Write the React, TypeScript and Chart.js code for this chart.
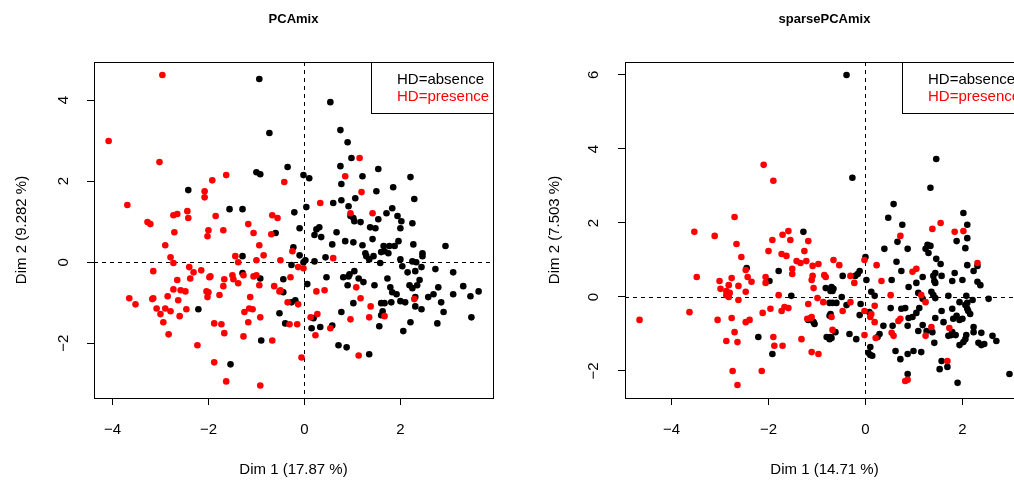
import React, { useEffect, useRef } from "react";
import { Chart, registerables } from "chart.js";

Chart.register(...registerables);

// ---------- Data ----------
const pcamixAbsence: [number, number][] = [
  [-2.42, 1.78], [-1.56, 1.31], [-2.21, -1.16], [-1.54, -2.52], [-0.94, 4.52], [0.54, 3.95],
  [-0.73, 3.19], [0.75, 3.26], [0.9, 2.96], [0.98, 2.57], [0.75, 2.37], [1.21, 2.12],
  [1.54, 2.3], [-1.0, 2.22], [-0.92, 2.17], [-0.35, 2.35], [-0.02, 2.15], [0.1, 2.07],
  [0.77, 1.93], [1.5, 1.75], [1.06, 1.58], [0.77, 1.53], [0.6, 1.46], [0.92, 1.38],
  [-1.29, 1.31], [-0.21, 1.23], [0.04, 1.36], [0.96, 1.14], [1.02, 1.09], [1.04, 1.01],
  [1.17, 0.99], [1.54, 1.06], [-0.1, 0.84], [0.25, 0.81], [0.31, 0.86], [0.67, 0.74],
  [1.37, 0.86], [1.48, 0.84], [-0.6, 0.72], [0.21, 0.67], [0.35, 0.62], [1.42, 0.57],
  [-0.23, 0.37], [-0.1, 0.17], [-1.29, 0.15], [0.58, 0.44], [0.85, 0.52], [1.02, 0.49],
  [1.21, 0.42], [1.27, 0.22], [1.29, 0.15], [1.35, 0.07], [1.44, 0.15], [1.58, -0.02],
  [1.6, 0.25], [0.44, 0.12], [0.02, 0.05], [-0.02, 0.0], [0.21, 0.02], [-0.27, -0.07],
  [-1.29, -0.27], [-0.92, -0.4], [-0.44, -0.42], [0.46, -0.37], [0.81, -0.37], [0.92, -0.35],
  [0.94, -0.3], [1.04, -0.22], [1.13, -0.4], [1.23, -0.49], [0.9, -0.57], [1.46, -0.57],
  [0.06, -0.54], [-0.44, -0.74], [-0.27, -0.99], [-0.19, -0.94], [1.02, -1.01], [1.6, -1.01],
  [-0.52, -1.26], [0.77, -1.23], [0.19, -1.38], [1.6, -1.31], [-0.4, -1.51], [0.15, -1.63],
  [0.33, -1.6], [0.58, -1.56], [1.56, -1.58], [-0.9, -1.93], [0.71, -2.05], [0.88, -2.1],
  [1.35, -2.27], [2.21, 2.1], [1.85, 1.85], [2.29, 1.56], [1.83, 1.33], [1.71, 1.21],
  [1.94, 1.14], [2.02, 1.01], [2.0, 0.84], [2.25, 0.96], [1.65, 0.4], [1.77, 0.4],
  [1.88, 0.4], [1.96, 0.52], [1.67, 0.27], [1.75, 0.22], [2.27, 0.44], [2.46, 0.22],
  [2.46, 0.15], [2.94, 0.4], [2.0, 0.07], [2.25, 0.02], [2.33, 0.0], [2.04, -0.1],
  [2.44, -0.12], [2.31, -0.22], [2.15, -0.25], [2.73, -0.17], [3.1, -0.25], [1.73, -0.4],
  [2.4, -0.44], [2.35, -0.57], [2.19, -0.57], [2.25, -0.64], [1.79, -0.62], [1.83, -0.74],
  [1.92, -0.79], [2.79, -0.62], [3.31, -0.59], [3.63, -0.72], [2.69, -0.79], [2.58, -0.86],
  [3.1, -0.79], [3.46, -0.84], [2.31, -0.86], [2.0, -0.96], [2.1, -0.99], [1.81, -0.99],
  [1.67, -1.01], [2.85, -0.99], [2.31, -1.09], [2.44, -1.16], [2.9, -1.23], [1.63, -1.21],
  [3.48, -1.36], [2.21, -1.48], [2.77, -1.51], [2.06, -1.7],
];

const pcamixPresence: [number, number][] = [
  [-2.96, 4.62], [-4.08, 2.99], [-3.02, 2.47], [-1.63, 2.15], [-1.92, 2.02], [-2.08, 1.75],
  [-2.08, 1.6], [-3.69, 1.41], [-2.44, 1.26], [-2.65, 1.19], [-2.73, 1.16], [-2.42, 1.09],
  [-1.85, 1.14], [-3.27, 0.99], [-3.21, 0.94], [-2.0, 0.79], [-1.69, 0.79], [-2.71, 0.74],
  [-2.02, 0.64], [-2.9, 0.42], [-2.79, 0.12], [-2.73, -0.02], [-1.44, 0.15], [-1.38, 0.0],
  [-2.4, -0.12], [-2.31, -0.25], [-2.15, -0.2], [-3.15, -0.22], [-2.38, -0.4], [-1.96, -0.35],
  [-1.98, -0.37], [-1.5, -0.32], [-1.48, -0.42], [-1.67, -0.42], [-1.38, -0.52], [-2.65, -0.44],
  [-1.69, -0.59], [-2.73, -0.67], [-2.58, -0.69], [-2.48, -0.72], [-2.04, -0.72], [-2.0, -0.74],
  [-2.02, -0.86], [-1.77, -0.81], [-3.65, -0.89], [-3.52, -1.04], [-3.15, -0.89], [-3.17, -0.91],
  [-2.85, -0.84], [-2.63, -0.94], [-3.08, -1.14], [-2.9, -1.14], [-3.0, -1.28], [-2.79, -1.21],
  [-2.46, -1.16], [-2.6, -1.33], [-2.94, -1.48], [-1.88, -1.51], [-1.73, -1.53], [-1.67, -1.75],
  [-2.83, -1.78], [-2.23, -2.05], [-1.88, -2.47], [-1.63, -2.94], [0.85, 2.12], [1.15, 2.57],
  [-0.42, 1.98], [1.19, 1.73], [0.33, 1.46], [-0.67, 1.16], [-0.56, 1.09], [0.96, 1.21],
  [1.42, 1.21], [-1.17, 0.94], [-1.06, 0.72], [-0.69, 0.69], [-0.94, 0.42], [-0.25, 0.27],
  [-0.85, 0.17], [0.6, 0.1], [-1.0, 0.05], [-0.5, 0.05], [-0.13, -0.12], [-0.02, -0.15],
  [-1.27, -0.32], [-1.06, -0.35], [-1.0, -0.32], [-0.29, -0.37], [1.08, -0.62], [-0.94, -0.57],
  [-0.63, -0.59], [-0.52, -0.72], [-0.5, -0.69], [0.25, -0.72], [0.42, -0.69], [1.17, -0.89],
  [-1.13, -0.86], [-0.35, -0.99], [-0.13, -1.04], [1.38, -1.09], [-1.15, -1.14], [-1.08, -1.16],
  [-1.25, -1.23], [-0.92, -1.36], [0.27, -1.28], [0.13, -1.36], [1.35, -1.36], [0.96, -1.41],
  [-1.17, -1.48], [-0.31, -1.53], [-0.15, -1.53], [0.54, -1.63], [0.23, -1.8], [-1.27, -1.83],
  [-0.67, -1.93], [1.13, -2.3], [-0.06, -2.35], [-0.92, -3.04], [2.29, -0.91], [1.67, -1.33],
];

const sparseAbsence: [number, number][] = [
  [-0.39, 6.0], [-0.27, 3.22], [-1.28, 1.76], [1.46, 3.73], [1.34, 2.95], [0.58, 2.51],
  [0.47, 2.14], [0.76, 1.95], [2.02, 2.27], [2.1, 1.95], [-2.45, 0.78], [0.0, 1.08],
  [0.39, 1.3], [-1.79, 0.7], [-0.12, 0.7], [-0.16, 0.62], [-0.21, 0.57], [-0.47, 0.57],
  [0.02, 0.46], [-1.98, 0.43], [-0.82, 0.24], [-0.7, 0.27], [-0.66, 0.22], [-0.72, 0.16],
  [-0.68, 0.16], [0.12, 0.14], [0.19, 0.03], [-1.53, 0.03], [-0.49, 0.0], [-0.74, -0.16],
  [-0.68, -0.16], [-0.6, -0.16], [-0.39, -0.22], [-0.1, -0.19], [0.08, -0.41], [-0.72, -0.46],
  [-0.74, -0.51], [-0.12, -0.49], [-1.18, -0.62], [-1.07, -0.68], [-1.05, -0.73], [0.29, -1.0],
  [0.25, -1.08], [-0.33, -1.0], [-0.19, -1.14], [-0.62, -0.95], [-0.8, -1.08], [-0.74, -1.14],
  [-0.72, -1.08], [-0.7, -1.11], [-2.21, -1.08], [-1.92, -1.54], [0.1, -1.35], [0.06, -1.51],
  [0.1, -1.57], [0.14, -1.59], [0.66, 1.49], [1.88, 1.51], [2.1, 1.59], [1.28, 1.41],
  [1.34, 1.38], [1.24, 1.3], [1.3, 1.19], [0.87, 1.3], [2.06, 1.32], [0.64, 0.95],
  [1.46, 1.03], [1.55, 0.89], [2.31, 0.84], [2.1, 0.86], [2.23, 0.7], [0.74, 0.7],
  [1.44, 0.65], [1.4, 0.57], [1.57, 0.57], [1.84, 0.65], [1.18, 0.54], [0.54, 0.46],
  [1.42, 0.43], [1.44, 0.38], [1.79, 0.43], [2.0, 0.46], [1.05, 0.38], [2.31, 0.41],
  [2.37, 0.32], [0.89, 0.27], [1.36, 0.14], [1.4, 0.05], [1.44, -0.03], [1.09, 0.11],
  [1.71, 0.03], [2.08, 0.03], [2.54, -0.05], [1.18, -0.05], [2.21, -0.08], [2.1, -0.16],
  [2.06, -0.22], [1.94, -0.14], [1.79, -0.32], [0.82, -0.3], [0.74, -0.32], [0.52, -0.3],
  [1.11, -0.3], [1.05, -0.43], [1.57, -0.38], [2.1, -0.32], [2.16, -0.46], [2.12, -0.38],
  [0.97, -0.54], [0.89, -0.57], [1.44, -0.57], [1.88, -0.51], [1.81, -0.59], [1.94, -0.62],
  [2.0, -0.59], [1.61, -0.68], [1.18, -0.76], [0.56, -0.78], [0.37, -0.78], [0.87, -0.78],
  [2.23, -0.81], [1.09, -0.92], [1.26, -0.92], [1.38, -0.95], [1.79, -0.95], [1.71, -1.05],
  [1.77, -1.03], [1.86, -1.03], [2.39, -0.97], [2.23, -0.95], [2.08, -1.03], [2.06, -1.14],
  [2.02, -1.22], [1.94, -1.3], [2.62, -1.05], [2.7, -1.19], [2.33, -1.24], [2.45, -1.27],
  [2.39, -1.3], [1.42, -1.24], [0.62, -1.46], [0.87, -1.54], [0.99, -1.46], [1.15, -1.49],
  [0.72, -1.68], [1.57, -1.73], [1.53, -1.95], [1.69, -1.89], [0.87, -2.08], [1.9, -2.32],
  [2.97, -2.08],
];

const sparsePresence: [number, number][] = [
  [-2.7, 2.16], [-3.53, 1.76], [-2.1, 3.57], [-1.9, 3.14], [-1.59, 1.78], [1.55, 2.0],
  [1.38, 1.84], [1.84, 1.76], [2.02, 1.78], [-3.11, 1.65], [-2.66, 1.43], [-2.56, 1.08],
  [-2.47, 0.73], [-2.43, 0.54], [-2.35, 0.41], [-3.48, 0.54], [-3.01, 0.43], [-2.76, 0.51],
  [-2.82, 0.32], [-2.62, 0.3], [-2.99, 0.22], [-2.87, 0.16], [-2.8, 0.11], [-2.87, 0.05],
  [-2.82, 0.0], [-2.47, 0.14], [-2.62, -0.08], [-3.63, -0.41], [-4.66, -0.62], [-3.05, -0.62],
  [-2.76, -0.57], [-2.39, -0.62], [-2.47, -0.68], [-2.7, -0.95], [-2.87, -1.19], [-2.64, -1.22],
  [-2.74, -2.0], [-2.64, -2.38], [-1.71, 1.68], [-1.92, 1.54], [-1.55, 1.54], [-1.18, 1.51],
  [-2.0, 1.24], [-1.26, 1.24], [-1.73, 1.16], [-1.63, 1.11], [-0.02, 1.0], [-1.42, 0.97],
  [-1.34, 0.92], [-1.22, 0.97], [-0.97, 0.89], [-1.09, 0.84], [-0.66, 1.0], [-0.54, 0.86],
  [0.23, 0.86], [-1.51, 0.76], [-1.51, 0.62], [-0.31, 0.57], [-0.85, 0.59], [-0.82, 0.54],
  [-1.09, 0.57], [-1.11, 0.46], [0.33, 0.43], [-2.06, 0.54], [-2.06, 0.38], [-0.23, 0.38],
  [-1.07, 0.24], [-1.79, 0.05], [-0.99, -0.03], [-0.87, -0.14], [-0.31, -0.14], [-1.18, -0.19],
  [-1.67, -0.27], [-1.59, -0.3], [-1.96, -0.32], [-1.73, -0.38], [-2.12, -0.43], [0.19, -0.24],
  [-0.02, -0.38], [-0.47, -0.38], [-0.7, -0.54], [0.12, -0.46], [0.1, -0.54], [0.19, -0.68],
  [-1.11, -0.54], [-1.13, -0.57], [-1.2, -0.59], [0.21, -1.11], [-0.02, -1.03], [-0.68, -0.89],
  [-1.32, -1.14], [-1.9, -1.08], [-1.88, -1.32], [-1.71, -1.32], [-1.11, -1.49], [-0.97, -1.54],
  [-2.14, -2.0], [0.72, 1.65], [2.31, 0.92], [1.05, 0.76], [0.97, 0.68], [1.15, 0.05],
  [0.52, 0.05], [1.24, -0.14], [0.72, -0.59], [0.68, -0.65], [1.36, -0.81], [1.73, -0.84],
  [0.54, -0.97], [0.58, -1.05], [1.24, -1.05], [1.69, -1.73], [0.82, -2.27], [0.87, -2.24],
];

const pcamixXTicks = [-4, -2, 0, 2];
const pcamixYTicks = [-2, 0, 2, 4];
const sparseXTicks = [-4, -2, 0, 2];
const sparseYTicks = [-2, 0, 2, 4, 6];
const legendLabels = ["HD=absence", "HD=presence"];
const seriesColors = ["#000000", "#FF0000"];

const FONT = "'Liberation Sans', Arial, Helvetica, sans-serif";

type PanelProps = {
  title: string;
  xTitle: string;
  yTitle: string;
  absence: [number, number][];
  presence: [number, number][];
  xRange: [number, number];
  yRange: [number, number];
  xTicks: number[];
  yTicks: number[];
  canvasWidth: number;
  areaLeft: number;
  areaRight: number;
  yTitlePad: number;
  yTickPad: number;
};

const fmt = (v: number) => (v < 0 ? "\u2212" + Math.abs(v) : String(v));

function Panel(p: PanelProps) {
  const ref = useRef<HTMLCanvasElement | null>(null);
  useEffect(() => {
    if (!ref.current) return;
    const decor = {
      id: "rdecor",
      beforeDatasetsDraw(chart: any) {
        const { ctx, chartArea: a, scales } = chart;
        const x0 = Math.round(scales.x.getPixelForValue(0)) + 0.5;
        const y0 = Math.round(scales.y.getPixelForValue(0)) + 0.5;
        ctx.save();
        ctx.strokeStyle = "#000";
        ctx.lineWidth = 1;
        ctx.setLineDash([4, 4]);
        ctx.beginPath();
        ctx.moveTo(x0, a.top);
        ctx.lineTo(x0, a.bottom);
        ctx.moveTo(a.left, y0);
        ctx.lineTo(a.right, y0);
        ctx.stroke();
        ctx.restore();
      },
      afterDatasetsDraw(chart: any) {
        const { ctx, chartArea: a } = chart;
        ctx.save();
        ctx.strokeStyle = "#000";
        ctx.lineWidth = 1;
        ctx.setLineDash([]);
        ctx.strokeRect(Math.round(a.left) + 0.5, Math.round(a.top) + 0.5, Math.round(a.right - a.left), Math.round(a.bottom - a.top));
        // legend box
        const bw = 122, bh = 51;
        const bx = Math.round(a.right) - bw;
        const by = Math.round(a.top);
        ctx.fillStyle = "#fff";
        ctx.fillRect(bx, by, bw, bh);
        ctx.strokeRect(bx + 0.5, by + 0.5, bw, bh);
        ctx.font = `15px ${FONT}`;
        ctx.textBaseline = "middle";
        ctx.textAlign = "left";
        legendLabels.forEach((t, i) => {
          ctx.fillStyle = seriesColors[i];
          ctx.fillText(t, bx + 26, by + 18 + i * 17);
        });
        // main title
        ctx.font = `bold 13px ${FONT}`;
        ctx.fillStyle = "#000";
        ctx.textAlign = "center";
        ctx.fillText(p.title, (a.left + a.right) / 2, 19);
        ctx.restore();
      },
    };
    const chart = new Chart(ref.current, {
      type: "scatter",
      data: {
        datasets: [
          {
            label: legendLabels[1],
            data: p.presence.map(([x, y]) => ({ x, y })),
            backgroundColor: seriesColors[1],
            borderColor: seriesColors[1],
            borderWidth: 0,
            pointRadius: 3.3,
          },
          {
            label: legendLabels[0],
            data: p.absence.map(([x, y]) => ({ x, y })),
            backgroundColor: seriesColors[0],
            borderColor: seriesColors[0],
            borderWidth: 0,
            pointRadius: 3.3,
          },
        ],
      },
      options: {
        animation: false,
        responsive: false,
        events: [],
        layout: { padding: { left: 0, top: 62, right: p.canvasWidth - p.areaRight, bottom: 0 } },
        plugins: { legend: { display: false }, tooltip: { enabled: false }, title: { display: false } },
        scales: {
          x: {
            type: "linear",
            min: p.xRange[0],
            max: p.xRange[1],
            afterFit: (s: any) => { s.height = 85; },
            afterBuildTicks: (s: any) => { s.ticks = p.xTicks.map((v) => ({ value: v })); },
            grid: { drawOnChartArea: false, drawTicks: true, tickLength: 7, tickColor: "#000", color: "#000" },
            border: { display: false },
            ticks: {
              autoSkip: false, maxRotation: 0, minRotation: 0, padding: 16, color: "#000",
              font: { family: FONT, size: 15 }, callback: (v: any) => fmt(Number(v)),
            },
            title: { display: true, text: p.xTitle, color: "#000", font: { family: FONT, size: 15 }, padding: { top: 0, bottom: 4 } },
          },
          y: {
            type: "linear",
            min: p.yRange[0],
            max: p.yRange[1],
            afterFit: (s: any) => { s.width = p.areaLeft; },
            afterBuildTicks: (s: any) => { s.ticks = p.yTicks.map((v) => ({ value: v })); },
            grid: { drawOnChartArea: false, drawTicks: true, tickLength: 7, tickColor: "#000", color: "#000" },
            border: { display: false },
            ticks: {
              autoSkip: false, minRotation: 90, maxRotation: 90, crossAlign: "center", padding: p.yTickPad, color: "#000",
              font: { family: FONT, size: 15 }, callback: (v: any) => fmt(Number(v)),
            },
            title: { display: true, text: p.yTitle, color: "#000", font: { family: FONT, size: 15 }, padding: { top: p.yTitlePad, bottom: 0 } },
          },
        },
      },
      plugins: [decor],
    } as any);
    return () => chart.destroy();
  }, []);
  return <canvas ref={ref} width={p.canvasWidth} height={483} style={{ width: p.canvasWidth, height: 483, display: "block" }} />;
}

export default function App() {
  return (
    <div style={{ position: "absolute", left: 0, top: 0, width: 1014, height: 483, background: "#fff", overflow: "hidden" }}>
      <div style={{ position: "absolute", left: 0, top: 0, width: 507, height: 483, overflow: "hidden" }}>
        <Panel
          title="PCAmix" xTitle="Dim 1 (17.87 %)" yTitle="Dim 2 (9.282 %)"
          absence={pcamixAbsence} presence={pcamixPresence}
          xRange={[-4.385, 3.93]} yRange={[-3.35, 4.94]}
          xTicks={pcamixXTicks} yTicks={pcamixYTicks}
          canvasWidth={507} areaLeft={94} areaRight={493} yTitlePad={13} yTickPad={15}
        />
      </div>
      <div style={{ position: "absolute", left: 507, top: 0, width: 507, height: 483, overflow: "hidden" }}>
        <Panel
          title="sparsePCAmix" xTitle="Dim 1 (14.71 %)" yTitle="Dim 2 (7.503 %)"
          absence={sparseAbsence} presence={sparsePresence}
          xRange={[-4.96, 3.27]} yRange={[-2.73, 6.35]}
          xTicks={sparseXTicks} yTicks={sparseYTicks}
          canvasWidth={540} areaLeft={118} areaRight={517} yTitlePad={39} yTickPad={16}
        />
      </div>
    </div>
  );
}
